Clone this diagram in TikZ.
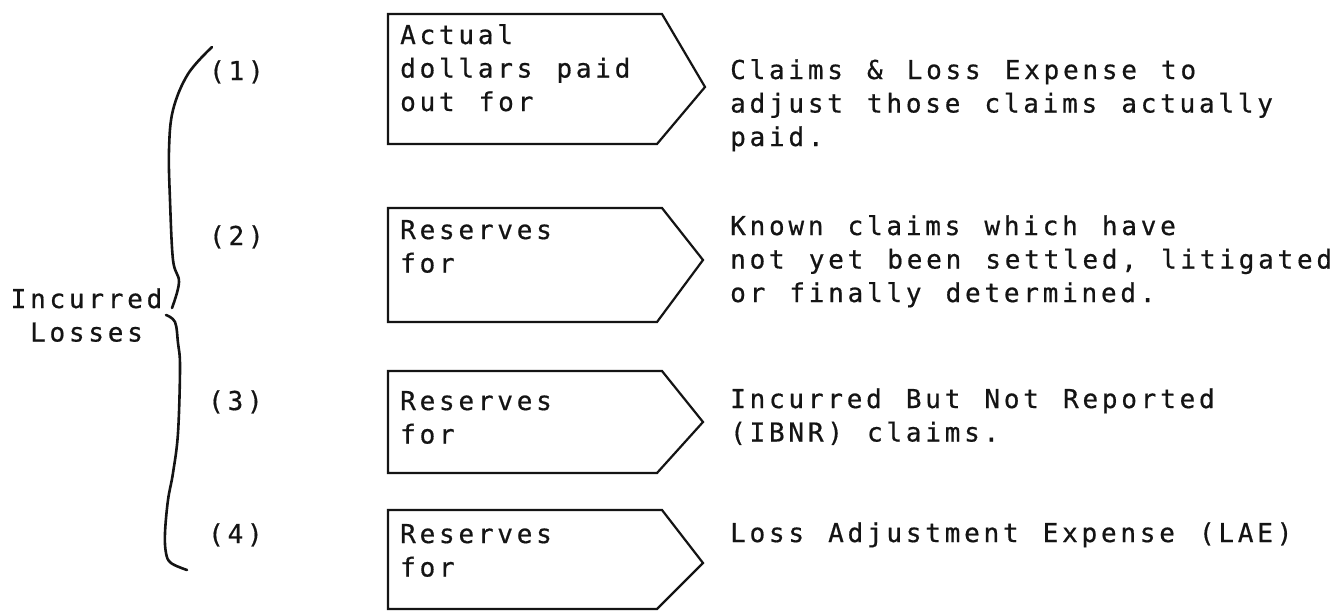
\documentclass[tikz,border=0pt]{standalone}
\usepackage{fontspec}
\newfontfamily\tw[LetterSpace=14.5, WordSpace={1.24,0,0}, FakeBold=0.6]{DejaVu Sans Mono}
\definecolor{ink}{HTML}{141414}
\newcommand{\lns}[1]{\begin{tabular}[t]{@{}l@{}}#1\end{tabular}}
\newcommand{\clns}[1]{\begin{tabular}[t]{@{}c@{}}#1\end{tabular}}
\begin{document}
\begin{tikzpicture}[x=1pt,y=-1pt,
  txt/.style={font=\tw\fontsize{26}{33.5}\selectfont, inner sep=0pt, anchor=base west, text=ink},
  arrowbox/.style={draw=ink, line width=2.2pt, line join=miter},
  bracestroke/.style={draw=ink, line width=2.6pt, line cap=round}]
\useasboundingbox (0,0) rectangle (1343,611);
\fill[white] (0,0) rectangle (1343,611);

% arrow-shaped boxes
\draw[arrowbox] (388,14) -- (662,14) -- (705,87) -- (657,144) -- (388,144) -- cycle;
\draw[arrowbox] (388,208) -- (662,208) -- (703,260) -- (657,322) -- (388,322) -- cycle;
\draw[arrowbox] (388,371) -- (662,371) -- (703,422) -- (657,473) -- (388,473) -- cycle;
\draw[arrowbox] (388,510) -- (662,510) -- (703,563) -- (657,609) -- (388,609) -- cycle;

% brace
\draw[bracestroke] plot[smooth, tension=0.6] coordinates {(212,47) (188,74) (173,110) (169,150) (170,200) (173,260) (179,282) (172,308)};
\draw[bracestroke] plot[smooth, tension=0.6] coordinates {(166,315) (175,322) (178,343) (180,367) (178,433) (173,473) (168,500) (165,533) (166,553) (171,563) (187,570)};

% left label
\node[txt, anchor=base] (inc) at (86.5,308) {\clns{Incurred\\Losses}};

% numbers
\node[txt] (n1) at (209,80) {(1)};
\node[txt] (n2) at (209,245) {(2)};
\node[txt] (n3) at (208,410) {(3)};
\node[txt] (n4) at (208,543) {(4)};

% box texts
\node[txt] (b1) at (400,44) {\lns{Actual\\dollars paid\\out for}};
\node[txt] (b2) at (400,239) {\lns{Reserves\\for}};
\node[txt] (b3) at (400,410) {\lns{Reserves\\for}};
\node[txt] (b4) at (400,543) {\lns{Reserves\\for}};

% right texts
\node[txt] (r1) at (730,79) {\lns{Claims \& Loss Expense to\\adjust those claims actually\\paid.}};
\node[txt] (r2) at (730,235) {\lns{Known claims which have\\not yet been settled, litigated\\or finally determined.}};
\node[txt] (r3) at (730,408) {\lns{Incurred But Not Reported\\(IBNR) claims.}};
\node[txt] (r4) at (730,542) {Loss Adjustment Expense (LAE)};
\end{tikzpicture}
\end{document}
